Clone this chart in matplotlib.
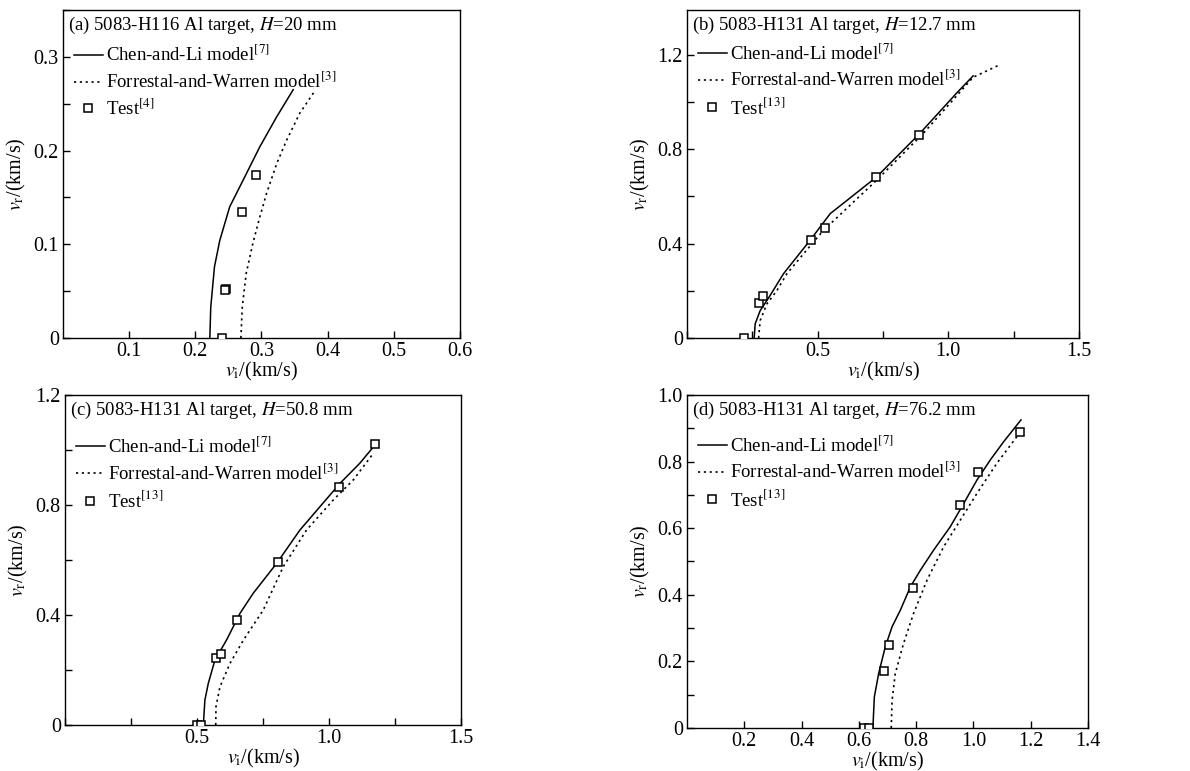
import matplotlib
matplotlib.use("Agg")
import matplotlib.pyplot as plt
from matplotlib.ticker import FixedLocator, MultipleLocator, FuncFormatter

plt.rcParams.update(
    {
        "font.family": "serif",
        "font.serif": ["Liberation Serif", "DejaVu Serif"],
        "mathtext.fontset": "stix",
        "font.size": 13,
        "axes.linewidth": 1.0,
        "xtick.direction": "in",
        "ytick.direction": "in",
        "xtick.labelsize": 14.5,
        "ytick.labelsize": 14.5,
    }
)

# (a) 5083-H116, H=20 mm
a_chen_x = [0.222, 0.2234, 0.229, 0.237, 0.252, 0.272, 0.2975, 0.323, 0.348]
a_chen_y = [0.0, 0.033, 0.076, 0.104, 0.140, 0.168, 0.204, 0.236, 0.265]
a_fw_x = [0.269, 0.271, 0.277, 0.287, 0.2975, 0.3076, 0.323, 0.338, 0.358, 0.381]
a_fw_y = [0.0, 0.033, 0.069, 0.101, 0.129, 0.154, 0.186, 0.211, 0.240, 0.264]
a_test_x = [0.2405, 0.247, 0.2456, 0.2708, 0.2925]
a_test_y = [0.0, 0.052, 0.051, 0.134, 0.174]

# (b) 5083-H131, H=12.7 mm
b_chen_x = [0.257, 0.261, 0.280, 0.318, 0.369, 0.420, 0.471, 0.548, 0.726, 0.891, 1.031, 1.095]
b_chen_y = [0.0, 0.060, 0.116, 0.180, 0.272, 0.343, 0.414, 0.527, 0.683, 0.867, 1.037, 1.111]
b_fw_x = [0.274, 0.280, 0.306, 0.344, 0.382, 0.446, 0.522, 0.726, 0.904, 1.095, 1.197]
b_fw_y = [0.0, 0.074, 0.145, 0.201, 0.272, 0.357, 0.456, 0.669, 0.867, 1.105, 1.158]
b_test_x = [0.218, 0.276, 0.289, 0.474, 0.530, 0.725, 0.889]
b_test_y = [0.0, 0.147, 0.180, 0.415, 0.465, 0.681, 0.860]

# (c) 5083-H131, H=50.8 mm
c_chen_x = [0.524, 0.530, 0.543, 0.568, 0.612, 0.663, 0.713, 0.802, 0.890, 0.966, 1.042, 1.117, 1.174]
c_chen_y = [0.0, 0.091, 0.152, 0.236, 0.309, 0.406, 0.479, 0.588, 0.709, 0.794, 0.879, 0.952, 1.018]
c_fw_x = [0.571, 0.572, 0.587, 0.625, 0.676, 0.751, 0.827, 0.915, 1.016, 1.092, 1.168]
c_fw_y = [0.0, 0.067, 0.139, 0.224, 0.309, 0.418, 0.576, 0.709, 0.818, 0.891, 0.988]
c_test_x = [0.500, 0.515, 0.572, 0.590, 0.652, 0.807, 1.038, 1.173]
c_test_y = [0.0, 0.0, 0.245, 0.257, 0.381, 0.594, 0.864, 1.021]

# (d) 5083-H131, H=76.2 mm
d_chen_x = [0.649, 0.654, 0.669, 0.692, 0.716, 0.745, 0.780, 0.815, 0.861, 0.919, 0.966, 1.012,
            1.059, 1.106, 1.166]
d_chen_y = [0.0, 0.093, 0.163, 0.243, 0.304, 0.354, 0.424, 0.474, 0.534, 0.604, 0.674, 0.744,
            0.805, 0.860, 0.925]
d_fw_x = [0.713, 0.716, 0.727, 0.756, 0.791, 0.838, 0.896, 0.954, 1.012, 1.082, 1.152]
d_fw_y = [0.0, 0.083, 0.163, 0.254, 0.344, 0.444, 0.544, 0.624, 0.704, 0.795, 0.875]
d_test_x = [0.619, 0.634, 0.688, 0.706, 0.788, 0.954, 1.017, 1.164]
d_test_y = [0.0, 0.0, 0.170, 0.250, 0.421, 0.668, 0.770, 0.888]

PANELS = [
    {
        "rect": [0.0529, 0.5616, 0.3336, 0.4254],
        "title": "(a) 5083-H116 Al target, $H$=20 mm",
        "chen": (a_chen_x, a_chen_y), "fw": (a_fw_x, a_fw_y), "test": (a_test_x, a_test_y),
        "test_ref": "4", "legend_top": 0.905,
        "xlim": (0, 0.6), "ylim": (0, 0.35),
        "xticks": [0.1, 0.2, 0.3, 0.4, 0.5, 0.6], "xminor": None,
        "yticks": [0, 0.1, 0.2, 0.3], "yminor": 0.05,
    },
    {
        "rect": [0.5773, 0.5616, 0.3294, 0.4254],
        "title": "(b) 5083-H131 Al target, $H$=12.7 mm",
        "chen": (b_chen_x, b_chen_y), "fw": (b_fw_x, b_fw_y), "test": (b_test_x, b_test_y),
        "test_ref": "13", "legend_top": 0.91,
        "xlim": (0, 1.5), "ylim": (0, 1.39),
        "xticks": [0.5, 1.0, 1.5], "xminor": 0.25,
        "yticks": [0, 0.4, 0.8, 1.2], "yminor": 0.2,
    },
    {
        "rect": [0.0546, 0.0597, 0.3328, 0.4280],
        "title": "(c) 5083-H131 Al target, $H$=50.8 mm",
        "chen": (c_chen_x, c_chen_y), "fw": (c_fw_x, c_fw_y), "test": (c_test_x, c_test_y),
        "test_ref": "13", "legend_top": 0.885,
        "xlim": (0, 1.5), "ylim": (0, 1.2),
        "xticks": [0.5, 1.0, 1.5], "xminor": 0.25,
        "yticks": [0, 0.4, 0.8, 1.2], "yminor": 0.2,
    },
    {
        "rect": [0.5773, 0.0558, 0.3370, 0.4320],
        "title": "(d) 5083-H131 Al target, $H$=76.2 mm",
        "chen": (d_chen_x, d_chen_y), "fw": (d_fw_x, d_fw_y), "test": (d_test_x, d_test_y),
        "test_ref": "13", "legend_top": 0.89,
        "xlim": (0, 1.4), "ylim": (0, 1.0),
        "xticks": [0.2, 0.4, 0.6, 0.8, 1.0, 1.2, 1.4], "xminor": None,
        "yticks": [0, 0.2, 0.4, 0.6, 0.8, 1.0], "yminor": 0.1,
    },
]


def tick_fmt(v, _pos):
    if abs(v) < 1e-9:
        return "0"
    return f"{v:.1f}"


def draw_panel(fig, p):
    ax = fig.add_axes(p["rect"])
    ax.plot(*p["chen"], color="black", lw=1.1, label="Chen-and-Li model$^{[7]}$")
    ax.plot(*p["fw"], color="black", lw=1.2, linestyle=(0, (1.3, 2.2)),
            label="Forrestal-and-Warren model$^{[3]}$")
    ax.plot(*p["test"], linestyle="none", marker="s", ms=6, mfc="white", mec="black",
            mew=1.1, label="Test$^{[" + p["test_ref"] + "]}$", zorder=4)

    ax.set_xlim(*p["xlim"])
    ax.set_ylim(*p["ylim"])
    ax.xaxis.set_major_locator(FixedLocator(p["xticks"]))
    ax.yaxis.set_major_locator(FixedLocator(p["yticks"]))
    if p["xminor"]:
        ax.xaxis.set_minor_locator(MultipleLocator(p["xminor"]))
    if p["yminor"]:
        ax.yaxis.set_minor_locator(MultipleLocator(p["yminor"]))
    ax.xaxis.set_major_formatter(FuncFormatter(tick_fmt))
    ax.yaxis.set_major_formatter(FuncFormatter(tick_fmt))
    ax.tick_params(which="major", length=5, width=1.0, pad=3)
    ax.tick_params(which="minor", length=5, width=1.0)

    ax.set_xlabel(r"$v_\mathrm{i}$/(km/s)", fontsize=14.5, labelpad=-1)
    ax.set_ylabel(r"$v_\mathrm{r}$/(km/s)", fontsize=14.5, labelpad=4)

    ax.text(0.012, 0.985, p["title"], transform=ax.transAxes, ha="left", va="top",
            fontsize=13.5)
    ax.legend(loc="upper left", bbox_to_anchor=(0.018, p["legend_top"]), frameon=False,
              handlelength=1.55, handletextpad=0.15, labelspacing=0.35,
              borderaxespad=0.0, borderpad=0.2, fontsize=13.5)
    return ax


fig = plt.figure(figsize=(11.9, 7.71), dpi=100)
for panel in PANELS:
    draw_panel(fig, panel)
fig.savefig("out.png", dpi=100)
